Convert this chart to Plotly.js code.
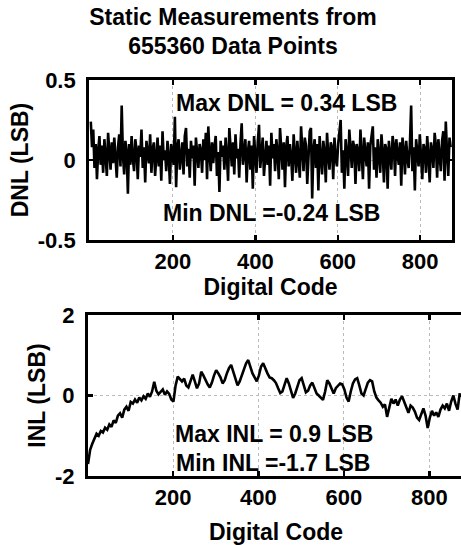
<!DOCTYPE html>
<html>
<head>
<meta charset="utf-8">
<script src="https://cdn.plot.ly/plotly-3.0.1.min.js"></script>
<style>
html,body{margin:0;padding:0;overflow:hidden;background:#fff;}
#chart{width:464px;height:545px;}
</style>
</head>
<body>
<div id="chart"></div>
<script>
// DNL sampled every 3 codes starting at code 1
var dnlStartCode = 1;
var dnlCodeStep = 3;
var dnlValues = [
 0.24, 0.08, 0.19, -0.05, 0.1, -0.12, 0.06, 0.15, -0.03, 0.09,
 -0.08, 0.13, 0.02, -0.1, 0.17, 0.04, -0.06, 0.11, -0.02, 0.14,
 0.0, -0.11, 0.08, 0.16, -0.04, 0.34, 0.03, -0.09, 0.12, 0.05,
 -0.21, 0.1, -0.03, 0.15, 0.01, -0.07, 0.13, 0.06, -0.12, 0.09,
 0.02, 0.19, -0.05, 0.08, -0.14, 0.12, 0.04, -0.02, 0.16, -0.08,
 0.07, 0.11, -0.1, 0.03, 0.14, -0.04, 0.09, -0.13, 0.18, 0.0,
 0.06, -0.07, 0.12, 0.02, -0.15, 0.1, 0.05, -0.03, 0.27, -0.17,
 0.08, 0.13, -0.06, 0.04, 0.11, -0.09, 0.15, 0.2, -0.04, 0.07,
 -0.11, 0.12, 0.01, 0.09, -0.16, 0.14, 0.03, -0.05, 0.1, 0.06,
 -0.08, 0.13, 0.0, 0.17, -0.12, 0.21, 0.04, -0.07, 0.11, -0.02,
 0.08, 0.15, -0.1, 0.05, -0.2, 0.12, 0.02, 0.09, -0.06, 0.14,
 0.03, -0.13, 0.2, 0.06, -0.04, 0.11, -0.09, 0.16, 0.01, 0.07,
 -0.11, 0.1, 0.23, -0.03, 0.08, 0.13, -0.14, 0.05, 0.12, -0.06,
 0.09, -0.18, 0.15, 0.02, -0.08, 0.11, 0.22, -0.05, 0.07, 0.14,
 -0.1, 0.04, 0.12, -0.03, 0.09, -0.16, 0.17, 0.01, 0.1, -0.07,
 0.13, 0.05, -0.12, 0.2, 0.03, -0.06, 0.11, -0.17, 0.08, 0.15,
 -0.04, 0.1, 0.02, -0.13, 0.16, 0.06, -0.08, 0.12, 0.0, -0.11,
 0.21, 0.04, -0.07, 0.14, 0.09, -0.15, 0.06, 0.18, 0.2, -0.24,
 0.07, 0.13, -0.05, 0.1, -0.19, 0.15, 0.02, -0.09, 0.12, 0.05,
 -0.14, 0.17, 0.03, -0.06, 0.11, 0.08, -0.12, 0.14, 0.01, -0.04,
 0.1, 0.16, 0.25, -0.08, 0.06, -0.18, 0.13, 0.04, -0.1, 0.19,
 0.02, -0.05, 0.12, 0.08, -0.15, 0.1, 0.05, -0.07, 0.19, 0.0,
 -0.12, 0.14, 0.06, -0.04, 0.11, -0.18, 0.09, 0.15, 0.21, -0.06,
 0.08, -0.11, 0.13, 0.03, -0.08, 0.16, 0.05, -0.14, 0.1, 0.07,
 -0.18, 0.12, 0.02, -0.06, 0.15, 0.09, -0.1, 0.13, 0.04, -0.03,
 0.11, -0.16, 0.14, 0.06, -0.09, 0.12, 0.01, -0.05, 0.1, 0.34,
 -0.07, 0.08, -0.19, 0.13, 0.05, -0.04, 0.16, 0.03, -0.12, 0.1,
 0.07, -0.08, 0.15, 0.02, -0.14, 0.11, 0.06, -0.05, 0.17, 0.09,
 -0.11, 0.13, 0.04, -0.07, 0.12, 0.18, -0.13, 0.24, 0.05, -0.1,
 0.14, 0.08
];

// INL sampled every 5 codes starting at code 1
var inlStartCode = 1;
var inlCodeStep = 5;
var inlValues = [
 -1.7, -1.35, -1.2, -1.05, -0.95, -1.0, -0.88, -0.92, -0.8, -0.85,
 -0.72, -0.78, -0.62, -0.68, -0.5, -0.44, -0.55, -0.35, -0.28, -0.38,
 -0.16, -0.2, -0.1, -0.18, -0.05, -0.12, -0.02, -0.08, 0.05, -0.03,
 0.1, 0.34, 0.12, 0.03, 0.08, 0.15, 0.02, 0.1, 0.04, -0.1,
 -0.15, 0.25, 0.47, 0.4, 0.35, 0.42, 0.25, 0.2, 0.38, 0.52,
 0.35, 0.18, 0.3, 0.59, 0.5, 0.38, 0.28, 0.2, 0.32, 0.5,
 0.63, 0.55, 0.45, 0.3, 0.38, 0.55, 0.68, 0.76, 0.6, 0.4,
 0.25, 0.35, 0.5, 0.65, 0.8, 0.88, 0.7, 0.55, 0.45, 0.35,
 0.5, 0.72, 0.8, 0.65, 0.55, 0.45, 0.43, 0.38, 0.31, 0.18,
 0.06, 0.1, 0.3, 0.43, 0.3, 0.1, -0.06, 0.05, 0.25, 0.38,
 0.43, 0.28, 0.08, 0.12, 0.25, 0.32, 0.2, 0.05, 0.0, -0.05,
 -0.11, 0.1, 0.38, 0.3, 0.15, 0.05, 0.18, 0.25, 0.3, 0.28,
 0.15, -0.05, -0.15, 0.1, 0.3, 0.4, 0.43, 0.25, 0.05, 0.0,
 0.15, 0.32, 0.38, 0.35, 0.1, -0.05, -0.12, -0.18, -0.28, -0.22,
 -0.53, -0.3, -0.08, -0.2, -0.1, -0.25, -0.1, -0.02, -0.15, -0.3,
 -0.43, -0.25, -0.3, -0.4, -0.55, -0.61, -0.45, -0.32, -0.5, -0.81,
 -0.55, -0.38, -0.5, -0.42, -0.53, -0.35, -0.25, -0.32, -0.2, -0.38,
 -0.15, 0.0, -0.2, -0.35, 0.06
];

var xTickVals = [200, 400, 600, 800];
var dnlTickVals = [-0.5, 0, 0.5];
var dnlTickText = ['-0.5', '0', '0.5'];
var inlTickVals = [-2, 0, 2];
var inlTickText = ['-2', '0', '2'];

var chartTitle = 'Static Measurements from<br>655360 Data Points';
var xTitle = 'Digital Code';
var dnlTitle = 'DNL (LSB)';
var inlTitle = 'INL (LSB)';
var dnlMaxText = 'Max DNL = 0.34 LSB';
var dnlMinText = 'Min DNL =-0.24 LSB';
var inlMaxText = 'Max INL = 0.9 LSB';
var inlMinText = 'Min INL =-1.7 LSB';

var FF = 'Liberation Sans, Arial, Helvetica, sans-serif';
function bf(size) { return {family: FF, size: size, color: '#000', weight: 'bold'}; }

var traces = [
  {type: 'scatter', mode: 'lines', y: dnlValues, x0: dnlStartCode, dx: dnlCodeStep,
   xaxis: 'x', yaxis: 'y', line: {color: '#000', width: 2.6}, hoverinfo: 'none'},
  {type: 'scatter', mode: 'lines', y: inlValues, x0: inlStartCode, dx: inlCodeStep,
   xaxis: 'x2', yaxis: 'y2', line: {color: '#000', width: 2.6}, hoverinfo: 'none'}
];

function xAxis(domain, range, anchor, standoff) {
  return {
    domain: domain, range: range, anchor: anchor,
    tickvals: xTickVals, ticks: 'inside', ticklen: 5, tickwidth: 2.5, tickcolor: '#000',
    showline: true, linecolor: '#000', linewidth: 3, mirror: 'ticks',
    showgrid: true, gridcolor: '#bbbbbb', griddash: 'dot', gridwidth: 1,
    zeroline: false, tickfont: bf(22), automargin: false,
    title: {text: xTitle, font: bf(23), standoff: standoff}
  };
}
function yAxis(domain, range, anchor, tv, tt, title) {
  return {
    domain: domain, range: range, anchor: anchor,
    tickvals: tv, ticktext: tt, ticks: 'inside', ticklen: 5, tickwidth: 2.5, tickcolor: '#000',
    showline: true, linecolor: '#000', linewidth: 3, mirror: 'ticks',
    showgrid: true, gridcolor: '#bbbbbb', griddash: 'dot', gridwidth: 1,
    zeroline: false, tickfont: bf(22), automargin: false, ticklabelstandoff: 6,
    title: {text: title, font: bf(23), standoff: 3}
  };
}

var layout = {
  width: 464, height: 545,
  margin: {l: 88, r: 0, t: 0, b: 0},
  paper_bgcolor: '#fff', plot_bgcolor: '#fff',
  showlegend: false,
  font: bf(22),
  title: {text: chartTitle, font: bf(23), x: 233 / 464, xref: 'container', xanchor: 'center',
          y: 0.955, yref: 'container', yanchor: 'top'},
  xaxis: xAxis([0.003, 0.968], [-3, 877], 'y', 1),
  yaxis: yAxis([0.5596, 0.8532], [-0.5, 0.5], 'x', dnlTickVals, dnlTickText, dnlTitle),
  xaxis2: xAxis([0, 1], [1, 881], 'y2', 15),
  yaxis2: yAxis([0.1266, 0.4220], [-2, 2], 'x2', inlTickVals, inlTickText, inlTitle),
  annotations: [
    {text: dnlMaxText, xref: 'paper', yref: 'paper', x: 0.527, y: 0.811, showarrow: false, font: bf(23), xanchor: 'center', yanchor: 'middle'},
    {text: dnlMinText, xref: 'paper', yref: 'paper', x: 0.489, y: 0.610, showarrow: false, font: bf(23), xanchor: 'center', yanchor: 'middle'},
    {text: inlMaxText, xref: 'paper', yref: 'paper', x: 0.495, y: 0.204, showarrow: false, font: bf(23), xanchor: 'center', yanchor: 'middle'},
    {text: inlMinText, xref: 'paper', yref: 'paper', x: 0.492, y: 0.150, showarrow: false, font: bf(23), xanchor: 'center', yanchor: 'middle'}
  ]
};

Plotly.newPlot('chart', traces, layout, {displayModeBar: false, staticPlot: true, responsive: false});
</script>
</body>
</html>
